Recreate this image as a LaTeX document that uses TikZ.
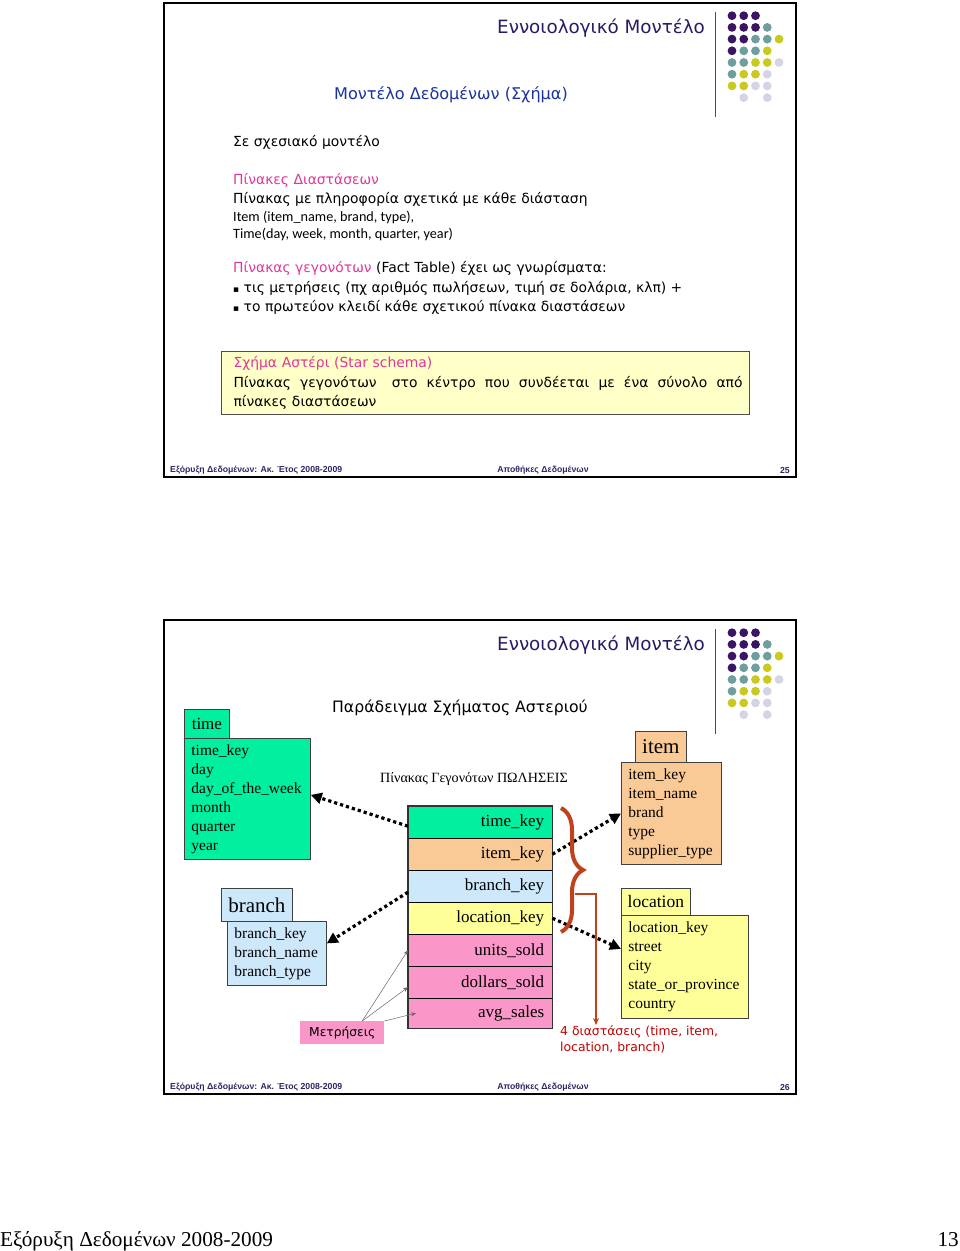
\documentclass[tikz,border=0pt]{standalone}
\usepackage{fontspec}
\usepackage{xcolor}
\usepackage{tikz}
\usetikzlibrary{arrows.meta,decorations.pathreplacing}
\setmainfont{Liberation Serif}
\newfontfamily\comicf{DejaVu Sans}
\newfontfamily\calibf{Carlito}
\newfontfamily\arialf{Liberation Sans}

\definecolor{titlecol}{HTML}{2A1A66}
\definecolor{subcol}{HTML}{1A33A0}
\definecolor{magcol}{HTML}{E0379A}
\definecolor{footcol}{HTML}{2E2466}
\definecolor{dotP}{HTML}{3B1464}
\definecolor{dotT}{HTML}{6E9E9E}
\definecolor{dotY}{HTML}{C9C91E}
\definecolor{dotL}{HTML}{D4D4E6}
\definecolor{tgreen}{HTML}{00F0A0}
\definecolor{tpeach}{HTML}{FACA96}
\definecolor{tblue}{HTML}{CDE8FA}
\definecolor{tyellow}{HTML}{FFFF99}
\definecolor{tpink}{HTML}{FA96C8}
\definecolor{boxyellow}{HTML}{FFFFC8}
\definecolor{bracecol}{HTML}{C0421C}
\definecolor{redtxt}{HTML}{C00000}

\begin{document}
\begin{tikzpicture}[x=1pt,y=-1pt,
    txt/.style={anchor=west,inner sep=0pt,font=\comicf\fontsize{13.9}{16}\selectfont},
    caltxt/.style={anchor=west,inner sep=0pt,font=\calibf\fontsize{14.2}{16}\selectfont},
    foot/.style={inner sep=0pt,text=footcol,font=\arialf\bfseries\fontsize{8.7}{10}\selectfont},
    thead/.style={draw=black!75,line width=0.8pt,anchor=north west,inner sep=0pt},
    tbody/.style={draw=black!75,line width=0.8pt,anchor=north west,align=left,
        inner xsep=7pt,inner ysep=0pt,font=\fontsize{15.5}{19}\selectfont},
    frow/.style={anchor=north west,minimum width=144,minimum height=32,inner xsep=8pt,
        inner ysep=0pt,text width=128,align=right,font=\fontsize{17}{19}\selectfont},
    dotarr/.style={line width=3.2pt,dash pattern=on 3.2pt off 3pt,
        -{Triangle[length=11pt,width=11pt]}},
    thinarr/.style={draw=black!60,line width=0.5pt,-{Stealth[length=5pt,width=4pt]}}
    ]
    \useasboundingbox (0,0) rectangle (960,1251);
    % common parts of both slides
    \foreach \s/\pg in {0/25,617/26}{
    \begin{scope}[shift={(0,\s)}]
        \draw[line width=2pt] (164,3) rectangle (796,477);
        \node[anchor=east,inner sep=0pt,text=titlecol,font=\comicf\fontsize{18.3}{21}\selectfont]
            (title\pg) at (705,28) {Εννοιολογικό Μοντέλο};
        \draw[black!70,line width=1pt] (715,12) -- (715,117);
        \foreach \c/\r/\col in {0/0/dotP,1/0/dotP,2/0/dotP,
            0/1/dotP,1/1/dotP,2/1/dotP,3/1/dotT,
            0/2/dotP,1/2/dotP,2/2/dotT,3/2/dotT,4/2/dotY,
            0/3/dotP,1/3/dotT,2/3/dotT,3/3/dotY,
            0/4/dotT,1/4/dotT,2/4/dotY,3/4/dotY,4/4/dotL,
            0/5/dotT,1/5/dotY,2/5/dotY,3/5/dotL,
            0/6/dotY,1/6/dotY,2/6/dotL,3/6/dotL,
            1/7/dotL,3/7/dotL}
            \fill[\col] (732+11.75*\c,15.7+11.7*\r) circle (4.4);
        \node[foot,anchor=west] (footl\pg) at (170,470) {Εξόρυξη Δεδομένων: Ακ. Έτος 2008-2009};
        \node[foot] (footc\pg) at (543,470) {Αποθήκες Δεδομένων};
        \node[foot,anchor=east] (footr\pg) at (790,470) {\pg};
    \end{scope}
    }

    % slide 25
    \node[inner sep=0pt,text=subcol,font=\comicf\fontsize{16.1}{19}\selectfont]
        (subtitle) at (451,95) {Μοντέλο Δεδομένων (Σχήμα)};
    \node[txt] (rel) at (233,142) {Σε σχεσιακό μοντέλο};
    \node[txt,text=magcol] (dimhead) at (233,180) {Πίνακες Διαστάσεων};
    \node[txt] (dimtxt) at (233,199) {Πίνακας με πληροφορία σχετικά με κάθε διάσταση};
    \node[caltxt] (itemtxt) at (233,217) {Item (item\_name, brand, type),};
    \node[caltxt] (timetxt) at (233,234) {Time(day, week, month, quarter, year)};
    \node[txt] (facthead) at (233,268) {\textcolor{magcol}{Πίνακας γεγονότων} (Fact Table) έχει ως γνωρίσματα:};
    \node[txt] (bul1) at (233,288) {{\small▪} τις μετρήσεις (πχ αριθμός πωλήσεων, τιμή σε δολάρια, κλπ) +};
    \node[txt] (bul2) at (233,307) {{\small▪} το πρωτεύον κλειδί κάθε σχετικού πίνακα διαστάσεων};
    \node[draw=black!70,line width=1pt,fill=boxyellow,anchor=north west,minimum width=528,
        minimum height=63,text width=504,inner xsep=12pt,inner ysep=3pt,align=left,
        font=\comicf\fontsize{13.9}{19.5}\selectfont] (starbox) at (221,351)
        {\textcolor{magcol}{Σχήμα Αστέρι (Star schema)}\\
        \makebox[509pt][l]{Πίνακας\hfill γεγονότων\hfill\hspace{6pt}στο\hfill κέντρο\hfill
        που\hfill συνδέεται\hfill με\hfill ένα\hfill σύνολο\hfill από}\\
        πίνακες διαστάσεων};

    % slide 26
    \node[inner sep=0pt,font=\comicf\fontsize{15.7}{18}\selectfont] (example) at (460,708)
        {Παράδειγμα Σχήματος Αστεριού};
    \node[inner sep=0pt,font=\fontsize{14.1}{16}\selectfont] (facttitle) at (474,779)
        {Πίνακας Γεγονότων ΠΩΛΗΣΕΙΣ};

    % dimension tables
    \node[thead,fill=tgreen,minimum width=45,minimum height=29,font=\fontsize{17}{19}\selectfont]
        (timeh) at (184,709) {time};
    \node[tbody,fill=tgreen,minimum width=126,minimum height=121,text width=112]
        (timeb) at (184,738) {time\_key\\day\\day\_of\_the\_week\\month\\quarter\\year};
    \node[thead,fill=tpeach,minimum width=51,minimum height=31,font=\fontsize{21}{23}\selectfont]
        (itemh) at (635,731) {item};
    \node[tbody,fill=tpeach,minimum width=100,minimum height=102,text width=86]
        (itemb) at (621,762) {item\_key\\item\_name\\brand\\type\\supplier\_type};
    \node[thead,fill=tyellow,minimum width=69,minimum height=27,font=\fontsize{17.5}{19}\selectfont]
        (loch) at (621,888) {location};
    \node[tbody,fill=tyellow,minimum width=127,minimum height=103,text width=113]
        (locb) at (621,915) {location\_key\\street\\city\\state\_or\_province\\country};
    \node[thead,fill=tblue,minimum width=71,minimum height=33,font=\fontsize{21}{23}\selectfont]
        (branchh) at (221,888) {branch};
    \node[tbody,fill=tblue,minimum width=99,minimum height=64,text width=85]
        (branchb) at (227,921) {branch\_key\\branch\_name\\branch\_type};

    % fact table
    \node[frow,fill=tgreen] (ftime) at (408,806) {time\_key};
    \node[frow,fill=tpeach] (fitem) at (408,838) {item\_key};
    \node[frow,fill=tblue] (fbranch) at (408,870) {branch\_key};
    \node[frow,fill=tyellow] (floc) at (408,902) {location\_key};
    \node[frow,fill=tpink] (funits) at (408,934) {units\_sold};
    \node[frow,fill=tpink] (fdollars) at (408,966) {dollars\_sold};
    \node[frow,fill=tpink,minimum height=30] (favg) at (408,998) {avg\_sales};
    \draw[line width=1.2pt] (ftime.south west) -- (ftime.south east);
    \draw[line width=1.2pt] (fitem.south west) -- (fitem.south east);
    \draw[line width=1.2pt] (fbranch.south west) -- (fbranch.south east);
    \draw[line width=1.2pt] (floc.south west) -- (floc.south east);
    \draw[line width=1.2pt] (funits.south west) -- (funits.south east);
    \draw[line width=1.2pt] (fdollars.south west) -- (fdollars.south east);
    \draw[line width=1.2pt,black!80] (ftime.north west) rectangle (favg.south east);

    % keys to dimensions
    \draw[dotarr] ([yshift=-4pt]ftime.west) -- ([yshift=4pt]timeb.east);
    \draw[dotarr] (fitem.east) -- (itemb.west);
    \draw[dotarr] ([yshift=-6pt]fbranch.west) -- ([yshift=10pt]branchb.east);
    \draw[dotarr] (floc.east) -- ([yshift=18pt]locb.west);

    % measures
    \node[fill=tpink,anchor=north west,minimum width=84,minimum height=23,inner sep=0pt,
        font=\comicf\fontsize{12.3}{14}\selectfont] (meas) at (300,1021) {Μετρήσεις};
    \draw[thinarr] ([xshift=20pt]meas.north) -- (funits.west);
    \draw[thinarr] ([xshift=20pt]meas.north) -- ([yshift=-5pt]fdollars.west);
    \draw[thinarr] (meas.north east) -- ([xshift=8pt]favg.west);

    % the four dimensions
    \draw[bracecol,line width=4pt,decorate,decoration={brace,amplitude=22pt}]
        (561,808) -- (561,932);
    \node[anchor=north west,inner sep=0pt,align=left,text=redtxt,
        font=\comicf\fontsize{12.4}{16}\selectfont] (dimnote) at (560,1025)
        {4 διαστάσεις (time, item,\\location, branch)};
    \coordinate (bsplit) at (575,894);
    \draw[bracecol,line width=1.5pt,-{Stealth[length=7pt,width=6pt]}]
        (bsplit) -| ([xshift=36pt]dimnote.north west);

    % page footer
    \node[anchor=base west,inner sep=0pt,font=\fontsize{21.2}{25}\selectfont] (pgfoot) at (0,1246)
        {Εξόρυξη Δεδομένων 2008-2009};
    \node[anchor=base east,inner sep=0pt,font=\fontsize{21.2}{25}\selectfont] (pgnum) at (959,1246) {13};
\end{tikzpicture}
\end{document}
